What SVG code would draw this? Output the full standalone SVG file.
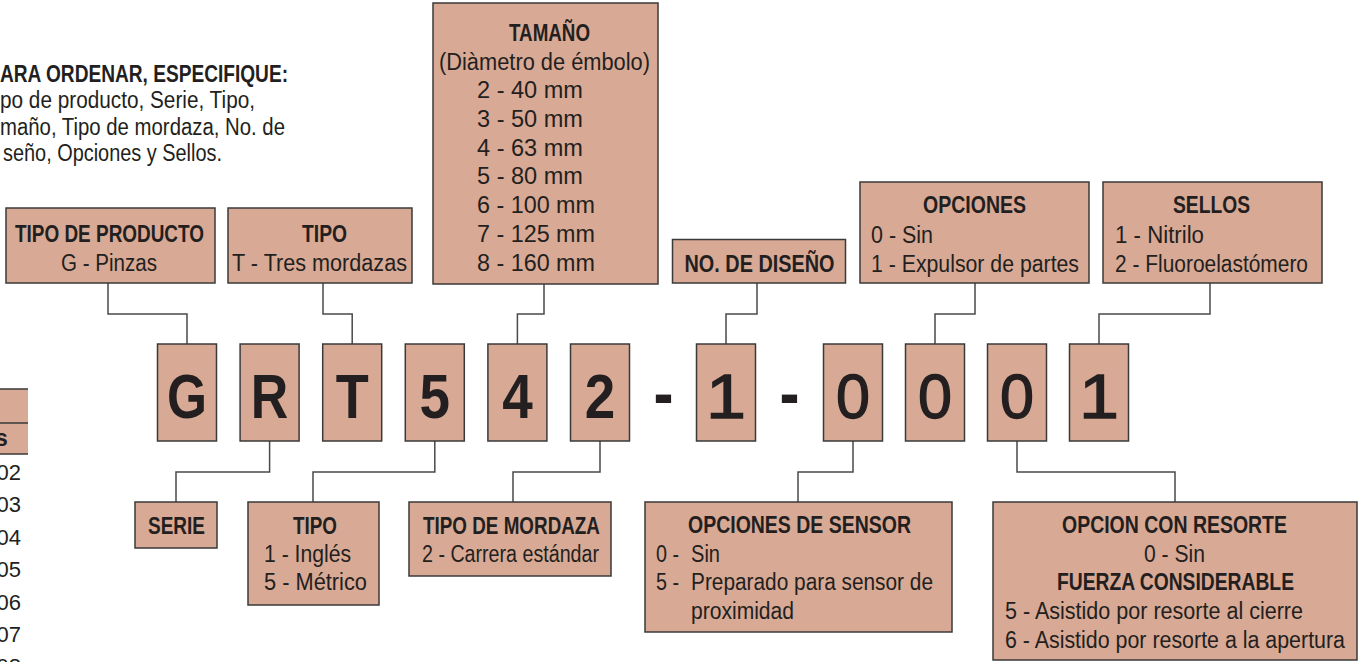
<svg xmlns="http://www.w3.org/2000/svg" width="1359" height="662" viewBox="0 0 1359 662">
<style>
.box{fill:#d8a994;stroke:#3a3a3a;stroke-width:1.5}
.fill{fill:#d8a994}
.conn{fill:none;stroke:#4a4a4a;stroke-width:1.5}
.t{font-family:"Liberation Sans",Arial,sans-serif;font-size:23px;fill:#231f20}
.b{font-weight:bold}
.big{font-size:63px;font-weight:bold;text-anchor:middle}
.reg{font-weight:normal;stroke:#231f20;stroke-width:1.3}
.dash{font-size:70px;font-weight:bold;text-anchor:middle}
.num{font-size:22px;text-anchor:end}
</style>
<rect width="1359" height="662" fill="#ffffff"/>

<g id="intro">
<text class="t b" x="0" y="82" textLength="288" lengthAdjust="spacingAndGlyphs">ARA ORDENAR, ESPECIFIQUE:</text>
<text class="t" x="0" y="108" textLength="255" lengthAdjust="spacingAndGlyphs">po de producto, Serie, Tipo,</text>
<text class="t" x="0" y="135" textLength="285" lengthAdjust="spacingAndGlyphs">maño, Tipo de mordaza, No. de</text>
<text class="t" x="3" y="161" textLength="219" lengthAdjust="spacingAndGlyphs">seño, Opciones y Sellos.</text>
</g>

<g id="table-fragment">
<rect class="fill" x="0" y="389" width="28" height="65"/>
<path d="M0 389H28M0 423H28M0 454H28" stroke="#3a3a3a" stroke-width="1.5" fill="none"/>
<text class="t b" x="-5" y="446">s</text>
<text class="t num" x="21" y="480">02</text>
<text class="t num" x="21" y="512">03</text>
<text class="t num" x="21" y="545">04</text>
<text class="t num" x="21" y="577">05</text>
<text class="t num" x="21" y="610">06</text>
<text class="t num" x="21" y="642">07</text>
<text class="t num" x="21" y="674">08</text>
</g>

<g id="connectors">
<path class="conn" d="M108 283V314H187V344"/>
<path class="conn" d="M323 283V314H352.2V344"/>
<path class="conn" d="M544 284V314H517.4V344"/>
<path class="conn" d="M757 283V314H726V344"/>
<path class="conn" d="M975 283V314H935V344"/>
<path class="conn" d="M1210 283V314H1099V344"/>
<path class="conn" d="M269.6 441V472H176V502"/>
<path class="conn" d="M434.8 441V472H313V502"/>
<path class="conn" d="M600 441V472H513V502"/>
<path class="conn" d="M853 441V472H798V502"/>
<path class="conn" d="M1017 441V472H1175V502"/>
</g>

<g id="tipo-producto">
<rect class="box" x="6" y="208" width="209" height="75"/>
<text class="t b" x="15" y="242" textLength="189" lengthAdjust="spacingAndGlyphs">TIPO DE PRODUCTO</text>
<text class="t" x="61" y="271" textLength="96" lengthAdjust="spacingAndGlyphs">G - Pinzas</text>
</g>
<g id="tipo-top">
<rect class="box" x="228" y="208" width="184" height="75"/>
<text class="t b" x="302" y="242" textLength="45" lengthAdjust="spacingAndGlyphs">TIPO</text>
<text class="t" x="232" y="271" textLength="175" lengthAdjust="spacingAndGlyphs">T - Tres mordazas</text>
</g>
<g id="tamano">
<rect class="box" x="433" y="3" width="225" height="281"/>
<text class="t b" x="509" y="41" textLength="81" lengthAdjust="spacingAndGlyphs">TAMAÑO</text>
<text class="t" x="439" y="70" textLength="211" lengthAdjust="spacingAndGlyphs">(Diàmetro de émbolo)</text>
<text class="t" x="477" y="98" textLength="106" lengthAdjust="spacingAndGlyphs">2 - 40 mm</text>
<text class="t" x="477" y="127" textLength="106" lengthAdjust="spacingAndGlyphs">3 - 50 mm</text>
<text class="t" x="477" y="156" textLength="106" lengthAdjust="spacingAndGlyphs">4 - 63 mm</text>
<text class="t" x="477" y="184" textLength="106" lengthAdjust="spacingAndGlyphs">5 - 80 mm</text>
<text class="t" x="477" y="213" textLength="118" lengthAdjust="spacingAndGlyphs">6 - 100 mm</text>
<text class="t" x="477" y="242" textLength="118" lengthAdjust="spacingAndGlyphs">7 - 125 mm</text>
<text class="t" x="477" y="271" textLength="118" lengthAdjust="spacingAndGlyphs">8 - 160 mm</text>
</g>
<g id="no-diseno">
<rect class="box" x="672.5" y="239.5" width="173" height="43.5"/>
<text class="t b" x="684.5" y="272" textLength="150" lengthAdjust="spacingAndGlyphs">NO. DE DISEÑO</text>
</g>
<g id="opciones">
<rect class="box" x="860" y="182" width="229" height="101"/>
<text class="t b" x="923" y="213" textLength="103" lengthAdjust="spacingAndGlyphs">OPCIONES</text>
<text class="t" x="871" y="243" textLength="62" lengthAdjust="spacingAndGlyphs">0 - Sin</text>
<text class="t" x="871" y="272" textLength="208" lengthAdjust="spacingAndGlyphs">1 - Expulsor de partes</text>
</g>
<g id="sellos">
<rect class="box" x="1103" y="182" width="219" height="101"/>
<text class="t b" x="1173" y="213" textLength="77" lengthAdjust="spacingAndGlyphs">SELLOS</text>
<text class="t" x="1115" y="243" textLength="89" lengthAdjust="spacingAndGlyphs">1 - Nitrilo</text>
<text class="t" x="1115" y="272" textLength="193" lengthAdjust="spacingAndGlyphs">2 - Fluoroelastómero</text>
</g>

<g id="code">
<g id="c-G"><rect class="box" x="157.5" y="344" width="59" height="97"/><text class="t big" x="187" y="418" textLength="40" lengthAdjust="spacingAndGlyphs">G</text></g>
<g id="c-R"><rect class="box" x="240.1" y="344" width="59" height="97"/><text class="t big" x="269.6" y="418" textLength="37.5" lengthAdjust="spacingAndGlyphs">R</text></g>
<g id="c-T"><rect class="box" x="322.7" y="344" width="59" height="97"/><text class="t big" x="352.2" y="418" textLength="33" lengthAdjust="spacingAndGlyphs">T</text></g>
<g id="c-5"><rect class="box" x="405.3" y="344" width="59" height="97"/><text class="t big" x="434.8" y="418" textLength="30.5" lengthAdjust="spacingAndGlyphs">5</text></g>
<g id="c-4"><rect class="box" x="487.9" y="344" width="59" height="97"/><text class="t big" x="517.4" y="418" textLength="30.5" lengthAdjust="spacingAndGlyphs">4</text></g>
<g id="c-2"><rect class="box" x="570.5" y="344" width="59" height="97"/><text class="t big" x="600" y="418" textLength="30.5" lengthAdjust="spacingAndGlyphs">2</text></g>
<text class="t dash" x="663.5" y="417" textLength="20" lengthAdjust="spacingAndGlyphs">-</text>
<g id="c-1a"><rect class="box" x="696.5" y="344" width="59" height="97"/><text class="t big reg" x="726" y="418" textLength="40" lengthAdjust="spacingAndGlyphs">1</text></g>
<text class="t dash" x="789.5" y="417" textLength="20" lengthAdjust="spacingAndGlyphs">-</text>
<g id="c-0a"><rect class="box" x="823.5" y="344" width="59" height="97"/><text class="t big reg" x="853" y="418" textLength="34" lengthAdjust="spacingAndGlyphs">0</text></g>
<g id="c-0b"><rect class="box" x="905.5" y="344" width="59" height="97"/><text class="t big reg" x="935" y="418" textLength="34" lengthAdjust="spacingAndGlyphs">0</text></g>
<g id="c-0c"><rect class="box" x="987.5" y="344" width="59" height="97"/><text class="t big reg" x="1017" y="418" textLength="34" lengthAdjust="spacingAndGlyphs">0</text></g>
<g id="c-1b"><rect class="box" x="1069.5" y="344" width="59" height="97"/><text class="t big reg" x="1099" y="418" textLength="40" lengthAdjust="spacingAndGlyphs">1</text></g>
</g>

<g id="serie">
<rect class="box" x="135" y="502" width="82" height="46"/>
<text class="t b" x="148" y="534" textLength="57" lengthAdjust="spacingAndGlyphs">SERIE</text>
</g>
<g id="tipo-bottom">
<rect class="box" x="248" y="502" width="131" height="103"/>
<text class="t b" x="293" y="534" textLength="44" lengthAdjust="spacingAndGlyphs">TIPO</text>
<text class="t" x="264" y="562" textLength="87" lengthAdjust="spacingAndGlyphs">1 - Inglés</text>
<text class="t" x="264" y="590" textLength="103" lengthAdjust="spacingAndGlyphs">5 - Métrico</text>
</g>
<g id="tipo-mordaza">
<rect class="box" x="409" y="502" width="202" height="74"/>
<text class="t b" x="423" y="534" textLength="177" lengthAdjust="spacingAndGlyphs">TIPO DE MORDAZA</text>
<text class="t" x="422" y="562" textLength="177" lengthAdjust="spacingAndGlyphs">2 - Carrera estándar</text>
</g>
<g id="opciones-sensor">
<rect class="box" x="645" y="502" width="307" height="130"/>
<text class="t b" x="688" y="533" textLength="223" lengthAdjust="spacingAndGlyphs">OPCIONES DE SENSOR</text>
<text class="t" x="656" y="562" textLength="23" lengthAdjust="spacingAndGlyphs">0 -</text>
<text class="t" x="691" y="562" textLength="29" lengthAdjust="spacingAndGlyphs">Sin</text>
<text class="t" x="656" y="590" textLength="23" lengthAdjust="spacingAndGlyphs">5 -</text>
<text class="t" x="691" y="590" textLength="242" lengthAdjust="spacingAndGlyphs">Preparado para sensor de</text>
<text class="t" x="691" y="619" textLength="103" lengthAdjust="spacingAndGlyphs">proximidad</text>
</g>
<g id="opcion-resorte">
<rect class="box" x="993" y="502" width="364" height="158"/>
<text class="t b" x="1062" y="533" textLength="225" lengthAdjust="spacingAndGlyphs">OPCION CON RESORTE</text>
<text class="t" x="1144" y="562" textLength="61" lengthAdjust="spacingAndGlyphs">0 - Sin</text>
<text class="t b" x="1057" y="590" textLength="237" lengthAdjust="spacingAndGlyphs">FUERZA CONSIDERABLE</text>
<text class="t" x="1005" y="619" textLength="298" lengthAdjust="spacingAndGlyphs">5 - Asistido por resorte al cierre</text>
<text class="t" x="1005" y="648" textLength="340" lengthAdjust="spacingAndGlyphs">6 - Asistido por resorte a la apertura</text>
</g>
</svg>
